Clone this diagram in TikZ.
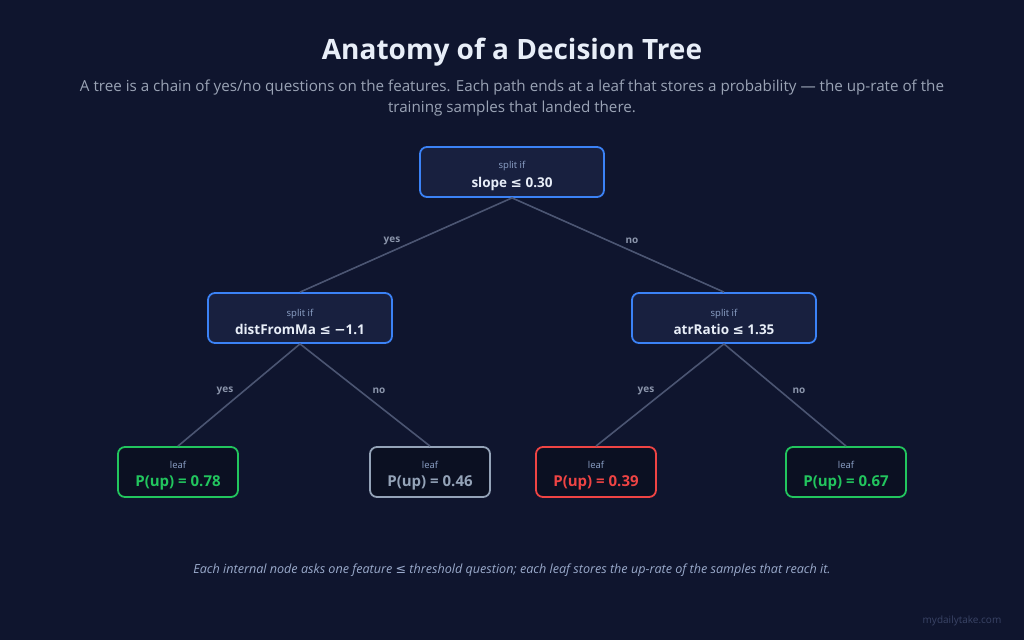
\documentclass[tikz,border=0pt]{standalone}
\usepackage{fontspec}
\setmainfont{Open Sans}
\newfontfamily\symfont{DejaVu Sans}
\usetikzlibrary{positioning}
\definecolor{bgnavy}{HTML}{0F152E}
\definecolor{titlecol}{HTML}{E8EEF8}
\definecolor{subcol}{HTML}{9AA3B5}
\definecolor{splitfill}{HTML}{18203F}
\definecolor{leaffill}{HTML}{0B1022}
\definecolor{splitblue}{HTML}{3B82F6}
\definecolor{smallcol}{HTML}{8EA3C9}
\definecolor{edgecol}{HTML}{4B5572}
\definecolor{labcol}{HTML}{8B95AB}
\definecolor{upgreen}{HTML}{22C55E}
\definecolor{upred}{HTML}{EF4444}
\definecolor{upgray}{HTML}{94A3B8}
\definecolor{footcol}{HTML}{9AAACB}
\definecolor{markcol}{HTML}{3A4466}
\tikzset{
  splitbox/.style={
    rectangle,
    rounded corners=7pt,
    fill=splitfill,
    draw=splitblue, line width=1.8pt,
    minimum width=184pt,
    minimum height=50pt,
    align=center},
  leafbox/.style={
    rectangle,
    rounded corners=7pt,
    fill=leaffill,
    draw=#1, line width=1.8pt,
    minimum width=120pt,
    minimum height=50pt,
    align=center},
  edge/.style={draw=edgecol, line width=1.6pt},
  answer/.style={text=labcol, font=\fontsize{10}{12}\selectfont\bfseries},
}
\newcommand{\lesym}{{\symfont ≤}}
% small caption line on top, the rule on the line below
\newcommand{\splittext}[1]{\rule{0pt}{15pt}{\color{smallcol}\fontsize{9.5}{11}\selectfont split if}\\[5pt]%
  {\color{titlecol}\fontsize{13.5}{15}\selectfont\bfseries #1}}
\newcommand{\leaftext}[2]{\rule{0pt}{14pt}{\color{smallcol}\fontsize{9.5}{11}\selectfont leaf}\\[6pt]%
  {\color{#1}\fontsize{15}{17}\selectfont\bfseries #2}}

\begin{document}
\begin{tikzpicture}[x=1pt, y=-1pt]
  \fill[bgnavy] (0,0) rectangle (1024,640);
  \useasboundingbox (0,0) rectangle (1024,640);

  % heading
  \node (title) at (512,52) {\color{titlecol}\fontsize{28}{32}\selectfont\bfseries Anatomy of a Decision Tree};
  \node (sub) at (512,98) [align=center, text=subcol, font=\fontsize{15.2}{21.5}\selectfont]
    {A tree is a chain of yes/no questions on the features. Each path ends at a leaf that stores a probability --- the up-rate of the\\
     training samples that landed there.};

  % internal nodes
  \node (root) [splitbox] at (512,172) {\splittext{slope \lesym{} 0.30}};
  \node (dist) [splitbox] at (300,318) {\splittext{distFromMa \lesym{} {\symfont −}1.1}};
  \node (atr)  [splitbox] at (724,318) {\splittext{atrRatio \lesym{} 1.35}};

  % leaves
  \node (leafa) [leafbox=upgreen] at (178,472) {\leaftext{upgreen}{P(up) = 0.78}};
  \node (leafb) [leafbox=upgray]  at (430,472) {\leaftext{upgray}{P(up) = 0.46}};
  \node (leafc) [leafbox=upred]   at (596,472) {\leaftext{upred}{P(up) = 0.39}};
  \node (leafd) [leafbox=upgreen] at (846,472) {\leaftext{upgreen}{P(up) = 0.67}};

  % branches
  \path[edge] (root.south) -- (dist.north);
  \path[edge] (root.south) -- (atr.north);
  \path[edge] (dist.south) -- (leafa.north);
  \path[edge] (dist.south) -- (leafb.north);
  \path[edge] (atr.south) -- (leafc.north);
  \path[edge] (atr.south) -- (leafd.north);

  \node[answer] (y1) at (392,241) {yes};
  \node[answer] (n1) at (632,241) {no};
  \node[answer] (y2) at (225,391) {yes};
  \node[answer] (n2) at (379,391) {no};
  \node[answer] (y3) at (646,391) {yes};
  \node[answer] (n3) at (799,391) {no};

  % footnote and mark
  \node (foot) at (512,570) [text=footcol, font=\fontsize{12.6}{14}\selectfont\itshape]
    {Each internal node asks one feature \lesym{} threshold question; each leaf stores the up-rate of the samples that reach it.};
  \node (mark) at (962,621) [text=markcol, font=\fontsize{10}{12}\selectfont] {mydailytake.com};
\end{tikzpicture}
\end{document}
